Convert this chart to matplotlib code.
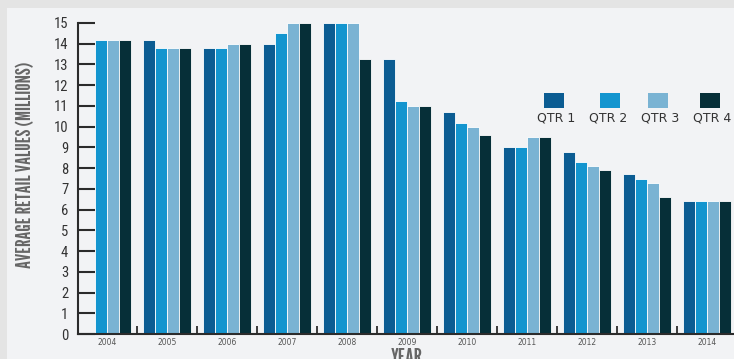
import numpy as np
import matplotlib
matplotlib.use("Agg")
import matplotlib.pyplot as plt
from matplotlib.patches import Rectangle

# ----------------------------------------------------------
# datos
# ----------------------------------------------------------
years = ["2004", "2005", "2006", "2007", "2008", "2009",
         "2010", "2011", "2012", "2013", "2014"]
qtr1 = [np.nan, 14.2, 13.8, 14.0, 15.0, 13.25, 10.7, 9.0, 8.8, 7.7, 6.4]
qtr2 = [14.2, 13.8, 13.8, 14.5, 15.0, 11.25, 10.2, 9.0, 8.3, 7.5, 6.4]
qtr3 = [14.2, 13.8, 14.0, 15.0, 15.0, 11.0, 10.0, 9.5, 8.1, 7.3, 6.4]
qtr4 = [14.2, 13.8, 14.0, 15.0, 13.25, 11.0, 9.6, 9.5, 7.9, 6.6, 6.4]
series_names = ["QTR 1", "QTR 2", "QTR 3", "QTR 4"]
y_ticks = list(range(0, 16))

colors = ["#0b5c92", "#1395cf", "#7ab3d3", "#062f38"]
BG = "#f2f3f5"
COND = ["Roboto Condensed", "DejaVu Sans"]
TITLE = ["League Gothic", "Roboto Condensed", "DejaVu Sans"]

W, H = 734, 359
fig = plt.figure(figsize=(W / 100, H / 100), dpi=100, facecolor="#e4e4e4")
fig.add_artist(Rectangle((7 / W, 0), 1, 1 - 8 / H, transform=fig.transFigure,
                         facecolor=BG, edgecolor="none", zorder=0))

ax = fig.add_axes([78 / W, 25 / H, (W - 78) / W, 311 / H])
ax.set_facecolor(BG)
ax.patch.set_alpha(0)

x = np.arange(len(years))
width = 0.2
for i, vals in enumerate([qtr1, qtr2, qtr3, qtr4]):
    ax.bar(x + (i - 1.5) * width, vals, width, color=colors[i],
           edgecolor="white", linewidth=0.6, zorder=2)

ax.set_xlim(-0.483, 10.45)
ax.set_ylim(0, 15)

for s in ["top", "right"]:
    ax.spines[s].set_visible(False)
for s in ["left", "bottom"]:
    ax.spines[s].set_color("#2b2b2b")
    ax.spines[s].set_linewidth(1.5)
    ax.spines[s].set_zorder(3)

ax.set_yticks(y_ticks)
ax.set_yticklabels([str(v) for v in y_ticks], family=COND, fontsize=10.5,
                   color="#333333")
ax.tick_params(axis="y", direction="in", length=12, width=1.5,
               color="#2b2b2b", pad=7)

ax.set_xticks(x)
ax.set_xticklabels(years, fontsize=5.5, color="#555555")
ax.set_xticks(x[:-1] + 0.5, minor=True)
ax.tick_params(axis="x", which="major", length=0, pad=3)
ax.tick_params(axis="x", which="minor", direction="in", length=6, width=1.3,
               color="#2b2b2b")

# textos de ejes (coordenadas en pixeles desde arriba)
fig.text(26 / W, 1 - 165 / H, "AVERAGE RETAIL VALUES (MILLIONS)", rotation=90,
         ha="center", va="center", family=TITLE, fontweight="bold",
         fontsize=14.7, color="#666666")
fig.text(407 / W, 1 - 348 / H, "YEAR", ha="center", va="top", family=TITLE,
         fontweight="bold", fontsize=16, color="#666666")

# leyenda hecha a mano: cuadro arriba, texto abajo
sq_cx = [554, 610, 658, 710]
lab_cx = [556, 608, 660, 712]
for i, name in enumerate(series_names):
    fig.add_artist(Rectangle(((sq_cx[i] - 10) / W, 1 - 108 / H), 20 / W, 15 / H,
                             transform=fig.transFigure, facecolor=colors[i],
                             edgecolor="none"))
    fig.text(lab_cx[i] / W, 1 - 118 / H, name, ha="center", va="center",
             fontsize=9, color="#333333")

fig.savefig("out.png", dpi=100, facecolor=fig.get_facecolor())
